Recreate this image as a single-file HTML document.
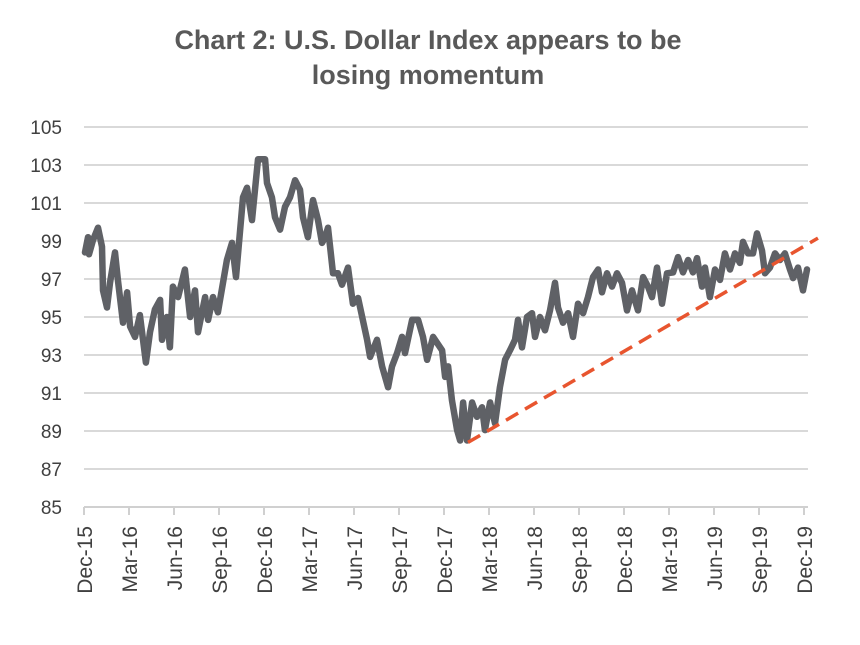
<!DOCTYPE html>
<html><head><meta charset="utf-8"><style>
body{margin:0;background:#fff;}
svg text{font-family:"Liberation Sans",Arial,sans-serif;}
</style></head><body>
<svg id="chart" width="860" height="640">
<text x="428" y="49" text-anchor="middle" font-size="27" font-weight="bold" fill="#595959">Chart 2: U.S. Dollar Index appears to be</text>
<text x="428" y="84" text-anchor="middle" font-size="27" font-weight="bold" fill="#595959">losing momentum</text>
<g id="grid"></g><g id="yticks"></g><g id="xaxis"></g><g id="series"></g>
</svg>
<script>
const yTicks=[85,87,89,91,93,95,97,99,101,103,105];
const xLabels=["Dec-15","Mar-16","Jun-16","Sep-16","Dec-16","Mar-17","Jun-17","Sep-17","Dec-17","Mar-18","Jun-18","Sep-18","Dec-18","Mar-19","Jun-19","Sep-19","Dec-19"];
// months since Dec-15
const months=[0.07,0.27,0.33,0.6,0.93,1.2,1.27,1.53,1.73,2.07,2.27,2.6,2.87,3.07,3.4,3.73,4.13,4.4,4.73,5.07,5.2,5.53,5.73,5.93,6.27,6.73,7.07,7.4,7.6,8.07,8.27,8.6,8.93,9.27,9.53,9.87,10.13,10.6,10.87,11.2,11.4,11.6,12.07,12.2,12.53,12.73,13.07,13.4,13.73,14.07,14.4,14.6,14.93,15.27,15.6,15.87,16.07,16.27,16.6,16.93,17.2,17.6,17.93,18.27,18.87,19.07,19.53,19.87,20.27,20.53,20.87,21.2,21.4,21.87,22.27,22.6,22.87,23.27,23.87,24.07,24.27,24.53,24.87,25.07,25.27,25.53,25.87,26.2,26.53,26.73,27.07,27.4,27.73,28.07,28.4,28.73,28.93,29.2,29.53,29.87,30.07,30.4,30.73,31.07,31.4,31.6,31.93,32.27,32.6,32.93,33.27,33.6,33.93,34.27,34.53,34.87,35.2,35.53,35.87,36.2,36.53,36.93,37.27,37.6,37.87,38.2,38.53,38.87,39.27,39.6,39.93,40.27,40.6,40.87,41.2,41.4,41.73,42.07,42.4,42.73,43.07,43.4,43.73,43.93,44.27,44.6,44.87,45.2,45.4,45.73,46.07,46.4,46.73,47.07,47.27,47.6,47.93,48.2];
const values=[98.4,99.2,98.3,99.05,99.7,98.7,96.4,95.5,96.8,98.4,96.9,94.7,96.3,94.5,93.95,95.1,92.6,94.2,95.4,95.9,93.8,95,93.4,96.6,96.05,97.5,95,96.4,94.2,96.05,94.85,96.05,95.25,96.8,98,98.9,97.1,101.3,101.8,100.1,101.7,103.3,103.3,102.05,101.3,100.25,99.6,100.8,101.3,102.2,101.7,100.25,99.2,101.15,100.1,98.9,99.2,99.7,97.3,97.3,96.7,97.6,95.7,96,93.8,92.9,93.8,92.4,91.3,92.4,93.1,93.95,93.1,94.85,94.85,93.95,92.75,93.95,93.25,91.85,92.4,90.6,89.05,88.5,90.5,88.5,90.5,89.75,90.25,89.05,90.5,89.4,91.3,92.75,93.25,93.8,94.85,93.4,95,95.2,93.95,95,94.3,95.35,96.8,95.5,94.7,95.2,93.95,95.7,95.2,96.05,97.1,97.5,96.3,97.3,96.6,97.3,96.8,95.35,96.4,95.35,97.1,96.6,96.05,97.6,95.7,97.3,97.35,98.15,97.35,98,97.35,98.1,96.6,97.6,96.05,97.5,96.95,98.35,97.5,98.35,97.85,98.95,98.35,98.35,99.4,98.5,97.3,97.6,98.35,98,98.35,97.5,97.05,97.6,96.4,97.5];
const trendMonths=[25.6,48.93];
const trendValues=[88.4,99.15];

const NS="http://www.w3.org/2000/svg";
const X=m=>84+m*15;
const Y=v=>507-(v-85)*19;
function mk(tag,attrs,parent,text){const e=document.createElementNS(NS,tag);for(const k in attrs)e.setAttribute(k,attrs[k]);if(text!==undefined)e.textContent=text;parent.appendChild(e);return e;}
const grid=document.getElementById('grid'),yt=document.getElementById('yticks'),xa=document.getElementById('xaxis'),se=document.getElementById('series');
yTicks.forEach(v=>{
  if(v>85){const l=mk('line',{x1:84,x2:808,y1:Y(v),y2:Y(v),stroke:'#d9d9d9','stroke-width':2},grid);
  
  }
  const t=mk('text',{x:62,y:Y(v)+7,'text-anchor':'end','font-size':19,fill:'#404040'},yt,String(v));
  
  
});
const ax=mk('line',{x1:84,x2:808,y1:507,y2:507,stroke:'#d0d0d0','stroke-width':2},xa);


xLabels.forEach((lab,i)=>{
  const x=X(i*3);
  const tk=mk('line',{x1:x,x2:x,y1:507,y2:515,stroke:'#d0d0d0','stroke-width':2},xa);
  
  
  const t=mk('text',{x:0,y:0,'text-anchor':'end','font-size':21,fill:'#404040',transform:`translate(${x+8},526) rotate(-90)`},xa,lab);
  
  
});
const pts=months.map((m,i)=>X(m).toFixed(1)+','+Y(values[i]).toFixed(1)).join(' ');
const pl=mk('polyline',{points:pts,fill:'none',stroke:'#5f6166','stroke-width':6.5,'stroke-linejoin':'round','stroke-linecap':'round'},se);


const tr=mk('line',{x1:X(trendMonths[0]),y1:Y(trendValues[0]),x2:X(trendMonths[1]),y2:Y(trendValues[1]),stroke:'#e8552f','stroke-width':3.5,'stroke-dasharray':'14 8'},se);


</script>
</body></html>
